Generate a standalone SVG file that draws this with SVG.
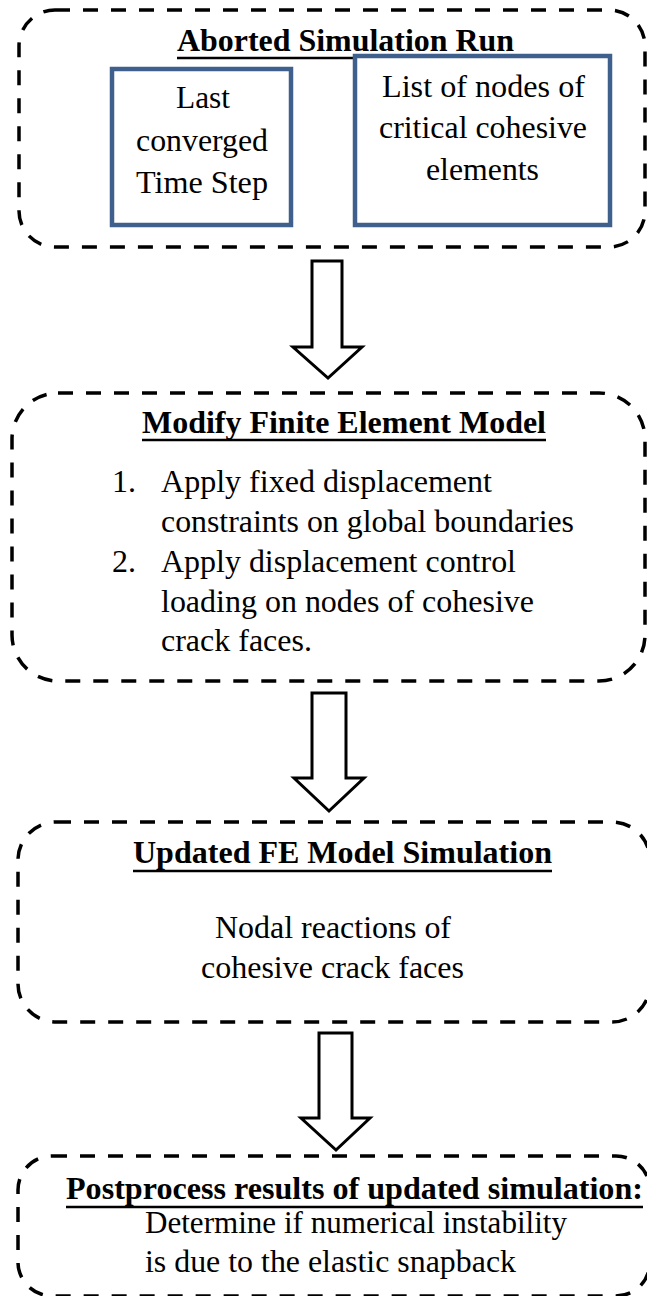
<svg xmlns="http://www.w3.org/2000/svg" width="647" height="1296" viewBox="0 0 647 1296">
<style>
.frame{fill:none;stroke:#000;stroke-width:3.5;stroke-dasharray:15 13}
.inner{fill:#fff;stroke:#3F5F8C;stroke-width:4.5}
.t{font-family:'Liberation Serif','Times New Roman',serif;font-size:30.5px;fill:#000}
.b{font-weight:bold}
.ul{stroke:#000;stroke-width:2.5}
.arrow{fill:#fff;stroke:#000;stroke-width:3;stroke-linejoin:miter}
</style>
<rect width="647" height="1296" fill="#fff"/>
<g id="aborted-run">
<rect class="frame" x="19" y="10" width="626" height="237" rx="36" ry="36"/>
<text class="t b" x="177" y="51" textLength="337" lengthAdjust="spacingAndGlyphs">Aborted Simulation Run</text>
<line class="ul" x1="177" y1="58" x2="514" y2="58"/>
</g>
<g id="last-step">
<rect class="inner" x="112" y="69" width="179" height="156"/>
<text class="t" x="176" y="108" textLength="54" lengthAdjust="spacingAndGlyphs">Last</text>
<text class="t" x="136" y="151" textLength="132" lengthAdjust="spacingAndGlyphs">converged</text>
<text class="t" x="136" y="193" textLength="132" lengthAdjust="spacingAndGlyphs">Time Step</text>
</g>
<g id="node-list">
<rect class="inner" x="355" y="56" width="255" height="169"/>
<text class="t" x="382" y="97" textLength="203" lengthAdjust="spacingAndGlyphs">List of nodes of</text>
<text class="t" x="379" y="138" textLength="208" lengthAdjust="spacingAndGlyphs">critical cohesive</text>
<text class="t" x="426" y="180" textLength="113" lengthAdjust="spacingAndGlyphs">elements</text>
</g>
<g id="modify-model">
<rect class="frame" x="12" y="393" width="633" height="288" rx="46" ry="46"/>
<text class="t b" x="142" y="433" textLength="404" lengthAdjust="spacingAndGlyphs">Modify Finite Element Model</text>
<line class="ul" x1="142" y1="440" x2="546" y2="440"/>
<text class="t" x="112" y="492" textLength="24" lengthAdjust="spacingAndGlyphs">1.</text>
<text class="t" x="161" y="492" textLength="331" lengthAdjust="spacingAndGlyphs">Apply fixed displacement</text>
<text class="t" x="161" y="532" textLength="413" lengthAdjust="spacingAndGlyphs">constraints on global boundaries</text>
<text class="t" x="112" y="572" textLength="24" lengthAdjust="spacingAndGlyphs">2.</text>
<text class="t" x="161" y="572" textLength="355" lengthAdjust="spacingAndGlyphs">Apply displacement control</text>
<text class="t" x="161" y="612" textLength="373" lengthAdjust="spacingAndGlyphs">loading on nodes of cohesive</text>
<text class="t" x="161" y="651" textLength="151" lengthAdjust="spacingAndGlyphs">crack faces.</text>
</g>
<g id="updated-sim">
<rect class="frame" x="18" y="822" width="632" height="200" rx="38" ry="38"/>
<text class="t b" x="133" y="863" textLength="419" lengthAdjust="spacingAndGlyphs">Updated FE Model Simulation</text>
<line class="ul" x1="133" y1="871" x2="552" y2="871"/>
<text class="t" x="215" y="938" textLength="236" lengthAdjust="spacingAndGlyphs">Nodal reactions of</text>
<text class="t" x="201" y="978" textLength="263" lengthAdjust="spacingAndGlyphs">cohesive crack faces</text>
</g>
<g id="postprocess">
<rect class="frame" x="18" y="1156" width="632" height="140" rx="34" ry="34"/>
<text class="t b" x="66" y="1199" textLength="577" lengthAdjust="spacingAndGlyphs">Postprocess results of updated simulation:</text>
<line class="ul" x1="66" y1="1207" x2="643" y2="1207"/>
<text class="t" x="145" y="1233" textLength="422" lengthAdjust="spacingAndGlyphs">Determine if numerical instability</text>
<text class="t" x="145" y="1272" textLength="371" lengthAdjust="spacingAndGlyphs">is due to the elastic snapback</text>
</g>
<g id="connectors">
<polygon class="arrow" points="312,261 342,261 342,347 362,347 328,378 293,347 312,347"/>
<polygon class="arrow" points="312,693 346,693 346,778 364,778 329,811 294,778 312,778"/>
<polygon class="arrow" points="319,1033 352,1033 352,1118 370,1118 336,1150 301,1118 319,1118"/>
</g>
</svg>
